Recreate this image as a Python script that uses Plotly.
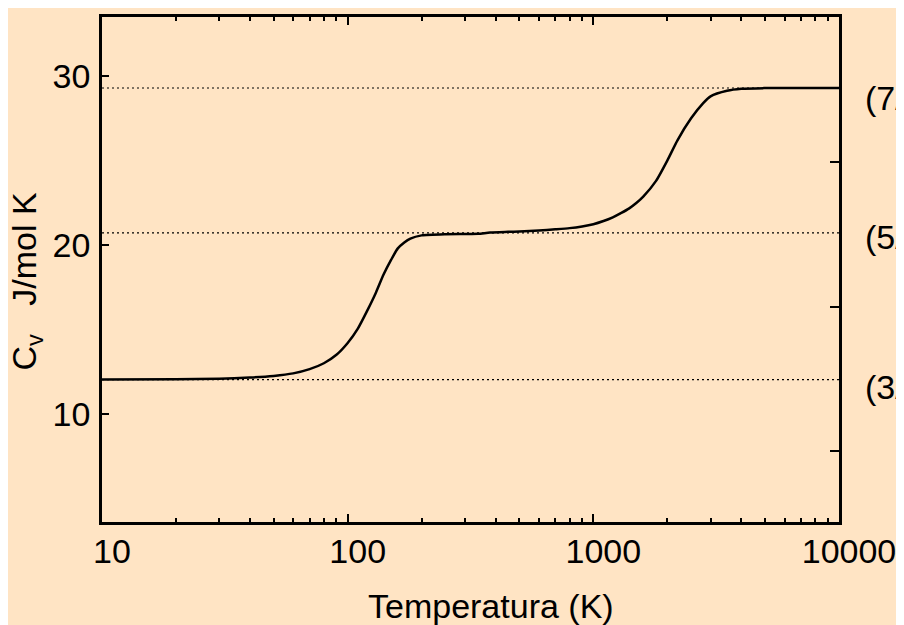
import plotly.graph_objects as go

# Curve data
temperature = [10, 20, 30, 40, 50, 60, 70, 80, 90, 100, 110, 120, 130, 140, 150, 160, 170,
               180, 200, 250, 300, 340, 380, 450, 500, 600, 700, 800, 900, 1000, 1100, 1200,
               1300, 1400, 1500, 1600, 1800, 2000, 2200, 2500, 2800, 3000, 3500, 4000, 5000,
               7000, 10000]
cv = [12.03, 12.05, 12.08, 12.15, 12.25, 12.4, 12.65, 13.0, 13.5, 14.2, 15.05, 16.1, 17.15,
      18.25, 19.1, 19.8, 20.15, 20.38, 20.57, 20.64, 20.65, 20.66, 20.74, 20.78, 20.8, 20.86,
      20.93, 21.0, 21.1, 21.23, 21.42, 21.64, 21.9, 22.17, 22.5, 22.88, 23.8, 25.0, 26.2,
      27.5, 28.4, 28.8, 29.13, 29.25, 29.29, 29.3, 29.3]

# Reference levels (dotted lines) and their labels
levels = [12.03, 20.72, 29.3]
level_labels = ["(3/2)R", "(5/2)R", "(7/2)R"]
label_shift = [-7, -4, -10]

x_tickvals = [10, 100, 1000, 10000]
x_ticktext = ["10", "100", "1000", "10000"]
y_tickvals = [10, 20, 30]
right_tickvals = [7.78, 16.31, 24.93]

x_title = "Temperatura (K)"
y_title = "C<sub>v</sub>\u00a0\u00a0\u00a0J/mol K"

FONT = "Liberation Sans, Arial, Helvetica, sans-serif"
FS = 34
BG = "#FFE4C4"

fig = go.Figure()

for lv in levels:
    fig.add_trace(go.Scatter(x=[x_tickvals[0], x_tickvals[-1]], y=[lv, lv], mode="lines",
                             line=dict(color="black", width=1.1, dash="2px,3px"),
                             hoverinfo="skip", showlegend=False))

fig.add_trace(go.Scatter(x=temperature, y=cv, mode="lines",
                         line=dict(color="black", width=2.5, shape="spline", smoothing=0.6),
                         showlegend=False))

# invisible trace for the right axis
fig.add_trace(go.Scatter(x=[x_tickvals[0]], y=[levels[0]], yaxis="y2", mode="markers",
                         marker=dict(opacity=0), hoverinfo="skip", showlegend=False))

for lv, txt, sh in zip(levels, level_labels, label_shift):
    fig.add_annotation(x=1.032, xref="paper", y=lv, yref="y", text=txt, showarrow=False,
                       xanchor="left", yanchor="middle", yshift=sh,
                       font=dict(size=FS, color="black", family=FONT))

fig.add_annotation(x=0.528, y=-0.167, xref="paper", yref="paper", text=x_title,
                   showarrow=False, xanchor="center", yanchor="middle",
                   font=dict(size=FS, color="black", family=FONT))
fig.add_annotation(x=-0.1018, y=0.476, xref="paper", yref="paper", text=y_title,
                   showarrow=False, xanchor="center", yanchor="middle", textangle=-90,
                   font=dict(size=FS, color="black", family=FONT))

yr = [3.6, 33.5]
fig.update_layout(
    width=896, height=617,
    paper_bgcolor=BG, plot_bgcolor=BG,
    margin=dict(l=94, r=65, t=6, b=103),
    font=dict(family=FONT, size=FS, color="black"),
    xaxis=dict(type="log", range=[1, 4], tickvals=x_tickvals, ticktext=x_ticktext,
               ticks="inside", ticklen=8, tickwidth=2, tickcolor="black",
               showline=True, linewidth=2.5, linecolor="black", mirror="ticks",
               showgrid=False, zeroline=False, ticklabelshift=10, ticklabelstandoff=-3,
               minor=dict(ticks="inside", ticklen=4, tickwidth=1.5, tickcolor="black",
                          dtick="D1", showgrid=False)),
    yaxis=dict(range=yr, tickvals=y_tickvals, ticks="inside", ticklen=7, tickwidth=2,
               tickcolor="black", showline=True, linewidth=2.5, linecolor="black",
               showgrid=False, zeroline=False, ticklabelstandoff=2),
    yaxis2=dict(range=yr, overlaying="y", side="right", tickvals=right_tickvals,
                showticklabels=False, ticks="inside", ticklen=9, tickwidth=2,
                tickcolor="black", showline=True, linewidth=2.5, linecolor="black",
                showgrid=False, zeroline=False),
)

fig.write_html("out.html")
